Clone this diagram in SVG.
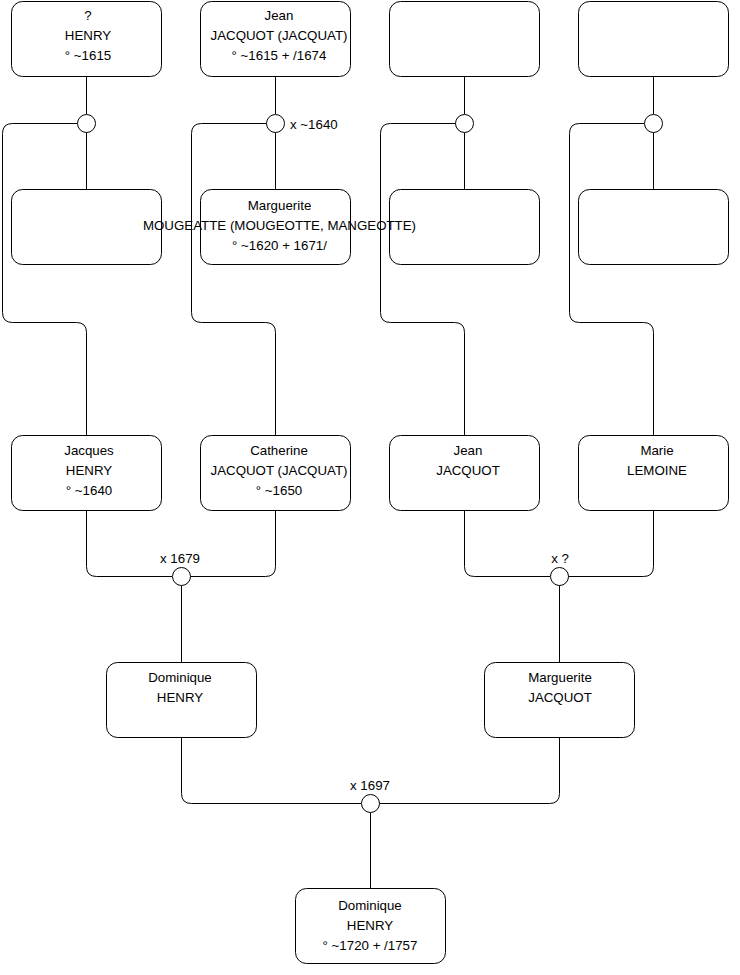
<svg xmlns="http://www.w3.org/2000/svg" width="740" height="975" viewBox="0 0 740 975">
<style>
.box{fill:#fff;stroke:#000;stroke-width:1}
.c{fill:#fff;stroke:#000;stroke-width:1}
.ln{fill:none;stroke:#000;stroke-width:1}
text{font-family:"Liberation Sans",Arial,Helvetica,sans-serif;font-size:13.3px;fill:#000}
.t{text-anchor:middle}
</style>
<rect width="740" height="975" fill="#fff"/>
<g id="connectors">
<path class="ln" d="M86.5 76V114M86.5 132V189M77.5 123.5H12.5Q2.5 123.5 2.5 133.5V312.5Q2.5 322.5 12.5 322.5H76.5Q86.5 322.5 86.5 332.5V435"/>
<path class="ln" d="M275.5 76V114M275.5 132V189M266.5 123.5H201.5Q191.5 123.5 191.5 133.5V312.5Q191.5 322.5 201.5 322.5H265.5Q275.5 322.5 275.5 332.5V435"/>
<path class="ln" d="M464.5 76V114M464.5 132V189M455.5 123.5H390.5Q380.5 123.5 380.5 133.5V312.5Q380.5 322.5 390.5 322.5H454.5Q464.5 322.5 464.5 332.5V435"/>
<path class="ln" d="M653.5 76V114M653.5 132V189M644.5 123.5H579.5Q569.5 123.5 569.5 133.5V312.5Q569.5 322.5 579.5 322.5H643.5Q653.5 322.5 653.5 332.5V435"/>
<path class="ln" d="M86.5 510V566.5Q86.5 576.5 96.5 576.5H172M190 576.5H265.5Q275.5 576.5 275.5 566.5V510M181.5 585V662"/>
<path class="ln" d="M464.5 510V566.5Q464.5 576.5 474.5 576.5H550M568 576.5H643.5Q653.5 576.5 653.5 566.5V510M559.5 585V662"/>
<path class="ln" d="M181.5 737V793.5Q181.5 803.5 191.5 803.5H361M379 803.5H549.5Q559.5 803.5 559.5 793.5V737M370.5 812V888"/>
<circle class="c" cx="86.5" cy="123.5" r="9"/>
<circle class="c" cx="275.5" cy="123.5" r="9"/>
<circle class="c" cx="464.5" cy="123.5" r="9"/>
<circle class="c" cx="653.5" cy="123.5" r="9"/>
<circle class="c" cx="181.5" cy="576.5" r="9"/>
<circle class="c" cx="559.5" cy="576.5" r="9"/>
<circle class="c" cx="370.5" cy="803.5" r="9"/>
<text x="290" y="128.5">x ~1640</text>
<text class="t" x="180" y="563">x 1679</text>
<text class="t" x="560" y="563">x ?</text>
<text class="t" x="370" y="789.5">x 1697</text>
</g>
<g id="n-henry-1615">
<rect class="box" x="11.5" y="1.5" width="150" height="75" rx="11"/>
<text class="t" x="88" y="19.5">?</text>
<text class="t" x="88" y="40">HENRY</text>
<text class="t" x="88" y="60">° ~1615</text>
</g>
<g id="n-jean-jacquot-1615">
<rect class="box" x="200.5" y="1.5" width="150" height="75" rx="11"/>
<text class="t" x="279" y="20">Jean</text>
<text class="t" x="279" y="40">JACQUOT (JACQUAT)</text>
<text class="t" x="279" y="60">° ~1615 + /1674</text>
</g>
<g id="n-empty-3">
<rect class="box" x="389.5" y="1.5" width="150" height="75" rx="11"/>
</g>
<g id="n-empty-4">
<rect class="box" x="578.5" y="1.5" width="150" height="75" rx="11"/>
</g>
<g id="n-empty-5">
<rect class="box" x="11.5" y="189.5" width="150" height="75" rx="11"/>
</g>
<g id="n-empty-7">
<rect class="box" x="389.5" y="189.5" width="150" height="75" rx="11"/>
</g>
<g id="n-empty-8">
<rect class="box" x="578.5" y="189.5" width="150" height="75" rx="11"/>
</g>
<g id="n-marguerite-mougeatte">
<rect class="box" x="200.5" y="189.5" width="150" height="75" rx="11"/>
<text class="t" x="279.5" y="210">Marguerite</text>
<text class="t" x="279.5" y="230">MOUGEATTE (MOUGEOTTE, MANGEOTTE)</text>
<text class="t" x="279.5" y="250">° ~1620 + 1671/</text>
</g>
<g id="n-jacques-henry">
<rect class="box" x="11.5" y="435.5" width="150" height="75" rx="11"/>
<text class="t" x="89" y="455">Jacques</text>
<text class="t" x="89" y="475">HENRY</text>
<text class="t" x="89" y="495">° ~1640</text>
</g>
<g id="n-catherine-jacquot">
<rect class="box" x="200.5" y="435.5" width="150" height="75" rx="11"/>
<text class="t" x="279" y="455">Catherine</text>
<text class="t" x="279" y="475">JACQUOT (JACQUAT)</text>
<text class="t" x="279" y="495">° ~1650</text>
</g>
<g id="n-jean-jacquot">
<rect class="box" x="389.5" y="435.5" width="150" height="75" rx="11"/>
<text class="t" x="468" y="455">Jean</text>
<text class="t" x="468" y="475">JACQUOT</text>
</g>
<g id="n-marie-lemoine">
<rect class="box" x="578.5" y="435.5" width="150" height="75" rx="11"/>
<text class="t" x="657" y="455">Marie</text>
<text class="t" x="657" y="475">LEMOINE</text>
</g>
<g id="n-dominique-henry-1">
<rect class="box" x="106.5" y="662.5" width="150" height="75" rx="11"/>
<text class="t" x="180" y="682">Dominique</text>
<text class="t" x="180" y="702">HENRY</text>
</g>
<g id="n-marguerite-jacquot">
<rect class="box" x="484.5" y="662.5" width="150" height="75" rx="11"/>
<text class="t" x="560" y="682">Marguerite</text>
<text class="t" x="560" y="702">JACQUOT</text>
</g>
<g id="n-dominique-henry-2">
<rect class="box" x="295.5" y="888.5" width="150" height="75" rx="11"/>
<text class="t" x="370" y="910">Dominique</text>
<text class="t" x="370" y="930">HENRY</text>
<text class="t" x="370" y="950">° ~1720 + /1757</text>
</g>
</svg>
